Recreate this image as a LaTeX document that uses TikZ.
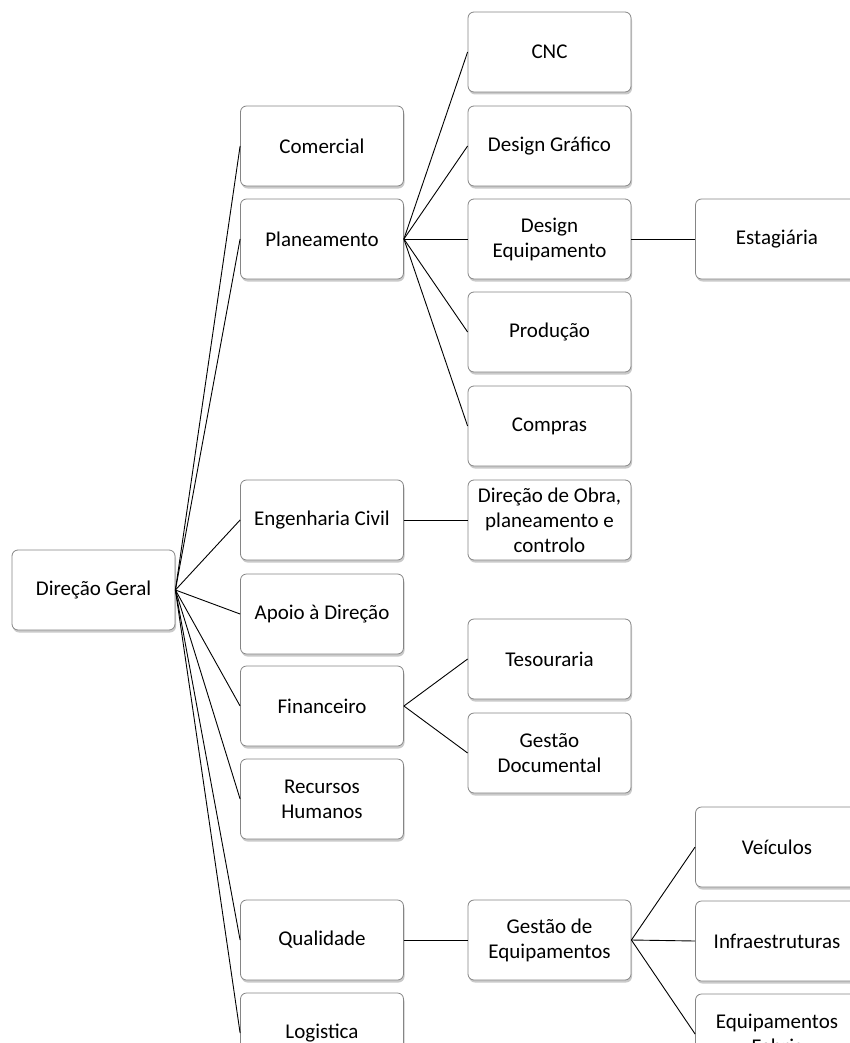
\documentclass[tikz,border=0pt]{standalone}
\usepackage{fontspec}
\setmainfont{Carlito}
\usetikzlibrary{shadows}
\tikzset{
  orgbox/.style={draw=black!48, line width=0.8pt, fill=white, rounded corners=6pt,
    minimum width=163pt, minimum height=80pt, inner sep=2pt, align=center,
    font=\fontsize{21}{25}\selectfont,
    drop shadow={shadow xshift=1pt, shadow yshift=-2.5pt, opacity=0.35, fill=black!60}},
  link/.style={draw=black, line width=0.9pt}
}
\begin{document}
\begin{tikzpicture}[x=1pt,y=-1pt]
\useasboundingbox (0,0) rectangle (850,1043);
\clip (0,0) rectangle (850,1043);
% root
\node[orgbox] (dg) at (93.5,590) {Direção Geral};
% level 1
\node[orgbox] (com) at (322,146) {Comercial};
\node[orgbox] (pla) at (322,239) {Planeamento};
\node[orgbox] (eng) at (322,520) {Engenharia Civil};
\node[orgbox] (apo) at (322,614) {Apoio à Direção};
\node[orgbox] (fin) at (322,706) {Financeiro};
\node[orgbox] (rh)  at (322,799) {Recursos\\Humanos};
\node[orgbox] (qua) at (322,940) {Qualidade};
\node[orgbox] (log) at (322,1033) {Logistica};
% level 2
\node[orgbox] (cnc) at (549.5,52) {CNC};
\node[orgbox] (dgr) at (549.5,146) {Design Gráfico};
\node[orgbox] (deq) at (549.5,239) {Design\\Equipamento};
\node[orgbox] (pro) at (549.5,332) {Produção};
\node[orgbox] (cpr) at (549.5,426) {Compras};
\node[orgbox] (dob) at (549.5,520) {Direção de Obra,\\planeamento e\\controlo};
\node[orgbox] (tes) at (549.5,659) {Tesouraria};
\node[orgbox] (gdo) at (549.5,753) {Gestão\\Documental};
\node[orgbox] (geq) at (549.5,940) {Gestão de\\Equipamentos};
% level 3
\node[orgbox] (est) at (777,239) {Estagiária};
\node[orgbox] (vei) at (777,847) {Veículos};
\node[orgbox] (inf) at (777,941) {Infraestruturas};
\node[orgbox] (efa) at (777,1034) {Equipamentos\\Fabris};
% connectors
\foreach \c in {com,pla,eng,apo,fin,rh,qua,log}
  \draw[link] (dg.east) -- (\c.west);
\foreach \c in {cnc,dgr,deq,pro,cpr}
  \draw[link] (pla.east) -- (\c.west);
\draw[link] (eng.east) -- (dob.west);
\draw[link] (deq.east) -- (est.west);
\foreach \c in {tes,gdo}
  \draw[link] (fin.east) -- (\c.west);
\draw[link] (qua.east) -- (geq.west);
\foreach \c in {vei,inf,efa}
  \draw[link] (geq.east) -- (\c.west);
\end{tikzpicture}
\end{document}
